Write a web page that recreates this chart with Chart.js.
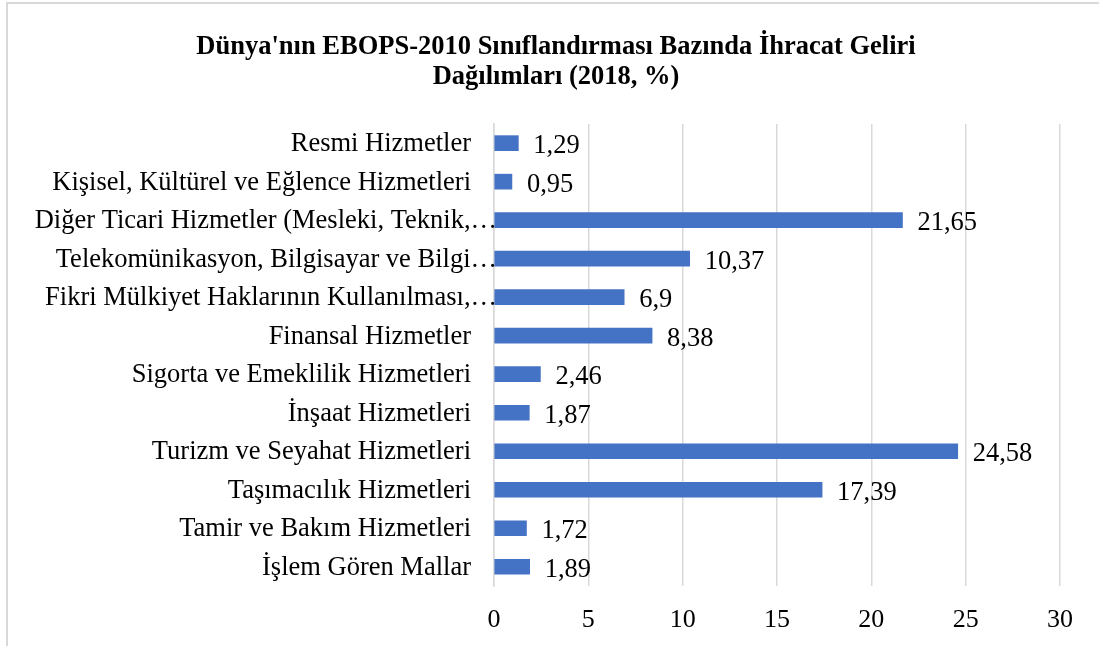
<!DOCTYPE html>
<html>
<head>
<meta charset="utf-8">
<script src="https://cdn.jsdelivr.net/npm/chart.js@4"></script>
<style>
  html, body { margin: 0; padding: 0; background: #fff; overflow: hidden; }
  #frame { position: absolute; left: 6px; top: 2px; width: 1100px; height: 660px; border: 2px solid #d9d9d9; box-sizing: border-box; }
  #wrap { position: absolute; left: 6px; top: 0; width: 1100px; height: 646px; }
</style>
</head>
<body>
<div id="frame"></div>
<div id="wrap"><canvas id="chart"></canvas></div>
<script>
const categories = [
  "Resmi Hizmetler",
  "Kişisel, Kültürel ve Eğlence Hizmetleri",
  "Diğer Ticari Hizmetler (Mesleki, Teknik,…",
  "Telekomünikasyon, Bilgisayar ve Bilgi…",
  "Fikri Mülkiyet Haklarının Kullanılması,…",
  "Finansal Hizmetler",
  "Sigorta ve Emeklilik Hizmetleri",
  "İnşaat Hizmetleri",
  "Turizm ve Seyahat Hizmetleri",
  "Taşımacılık Hizmetleri",
  "Tamir ve Bakım Hizmetleri",
  "İşlem Gören Mallar"
];
const shares = [1.29, 0.95, 21.65, 10.37, 6.9, 8.38, 2.46, 1.87, 24.58, 17.39, 1.72, 1.89];
const titleLines = ["Dünya'nın EBOPS-2010 Sınıflandırması Bazında İhracat Geliri", "Dağılımları (2018, %)"];

const serif = "'Liberation Serif', 'Times New Roman', serif";

// category names: truncated ones run up to the axis like in Excel
const categoryLabels = {
  id: "categoryLabels",
  afterDraw(chart) {
    const ctx = chart.ctx;
    const y = chart.scales.y;
    ctx.save();
    ctx.font = "26.5px " + serif;
    ctx.fillStyle = "#000";
    ctx.textAlign = "right";
    ctx.textBaseline = "middle";
    categories.forEach((name, i) => {
      const gap = name.endsWith("…") ? -3 : 23;
      ctx.fillText(name, y.right - gap, y.getPixelForTick(i) + 1);
    });
    ctx.restore();
  }
};

// draws the value at the end of each bar, with a decimal comma
const barLabels = {
  id: "barLabels",
  afterDatasetsDraw(chart) {
    const ctx = chart.ctx;
    const meta = chart.getDatasetMeta(0);
    ctx.save();
    ctx.font = "26.5px " + serif;
    ctx.fillStyle = "#000";
    ctx.textAlign = "left";
    ctx.textBaseline = "middle";
    meta.data.forEach((bar, i) => {
      const txt = String(shares[i]).replace(".", ",");
      ctx.fillText(txt, bar.x + 15, bar.y + 3);
    });
    ctx.restore();
  }
};

new Chart(document.getElementById("chart"), {
  type: "bar",
  data: {
    labels: categories,
    datasets: [{
      data: shares,
      backgroundColor: "#4472C4",
      barThickness: 15
    }]
  },
  options: {
    indexAxis: "y",
    responsive: true,
    maintainAspectRatio: false,
    animation: false,
    layout: { padding: { left: 46, right: 46, top: 0, bottom: 0 } },
    plugins: {
      legend: { display: false },
      tooltip: { enabled: false },
      title: {
        display: true,
        text: titleLines,
        color: "#000",
        font: { family: serif, size: 26.5, weight: "bold", lineHeight: 1.13 },
        padding: { top: 32, bottom: 32 }
      }
    },
    scales: {
      x: {
        min: 0,
        max: 30,
        ticks: { stepSize: 5, color: "#000", font: { family: serif, size: 26 }, padding: 19 },
        grid: { color: "#d9d9d9", lineWidth: 1.5, drawTicks: false },
        border: { display: false },
        afterFit(scale) { scale.height = 60; }
      },
      y: {
        ticks: { display: false },
        grid: { display: false },
        border: { color: "#d9d9d9", width: 1.5 },
        afterFit(scale) { scale.width = 442; }
      }
    }
  },
  plugins: [barLabels, categoryLabels]
});
</script>
</body>
</html>
